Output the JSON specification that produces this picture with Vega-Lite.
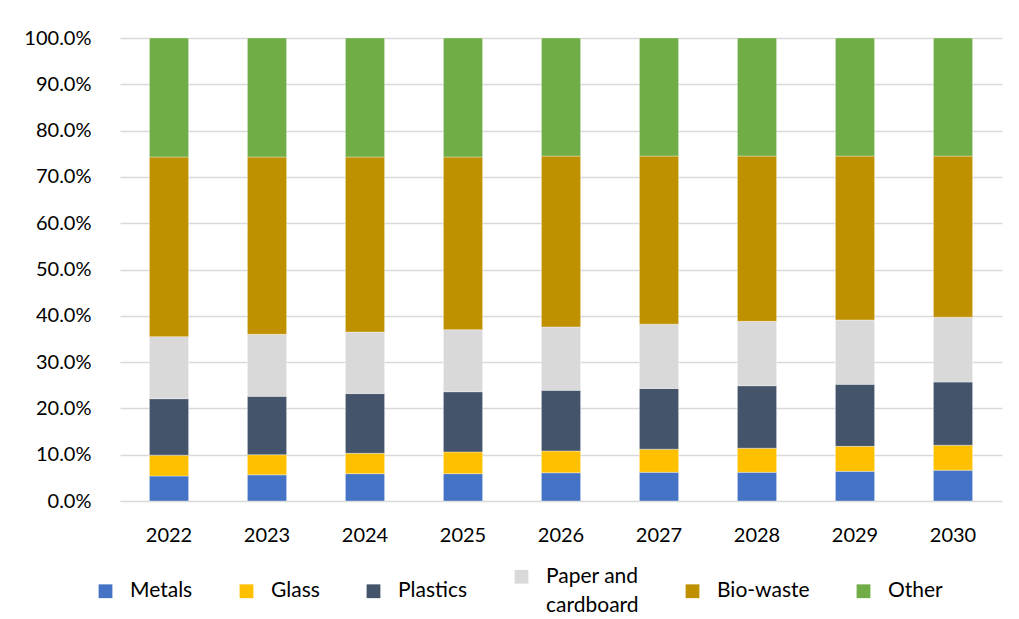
{
  "$schema": "https://vega.github.io/schema/vega-lite/v6.json",
  "autosize": {"type": "none"},
  "width": 882,
  "height": 463,
  "padding": {"left": 120, "top": 38, "right": 17, "bottom": 118},
  "background": "#ffffff",
  "config": {
    "font": "Lato",
    "view": {"stroke": null},
    "axis": {"labelFont": "Lato", "labelFontSize": 20, "labelColor": "#000000"},
    "style": {"guide-label": {"lineHeight": 29}}
  },
  "data": {
    "values": [
      {"year": "2022", "type": "Metals", "share": 0.054},
      {"year": "2022", "type": "Glass", "share": 0.045},
      {"year": "2022", "type": "Plastics", "share": 0.122},
      {"year": "2022", "type": "Paper and cardboard", "share": 0.134},
      {"year": "2022", "type": "Bio-waste", "share": 0.388},
      {"year": "2022", "type": "Other", "share": 0.257},
      {"year": "2023", "type": "Metals", "share": 0.0565},
      {"year": "2023", "type": "Glass", "share": 0.0435},
      {"year": "2023", "type": "Plastics", "share": 0.126},
      {"year": "2023", "type": "Paper and cardboard", "share": 0.134},
      {"year": "2023", "type": "Bio-waste", "share": 0.383},
      {"year": "2023", "type": "Other", "share": 0.257},
      {"year": "2024", "type": "Metals", "share": 0.059},
      {"year": "2024", "type": "Glass", "share": 0.044},
      {"year": "2024", "type": "Plastics", "share": 0.129},
      {"year": "2024", "type": "Paper and cardboard", "share": 0.133},
      {"year": "2024", "type": "Bio-waste", "share": 0.378},
      {"year": "2024", "type": "Other", "share": 0.257},
      {"year": "2025", "type": "Metals", "share": 0.059},
      {"year": "2025", "type": "Glass", "share": 0.047},
      {"year": "2025", "type": "Plastics", "share": 0.130},
      {"year": "2025", "type": "Paper and cardboard", "share": 0.134},
      {"year": "2025", "type": "Bio-waste", "share": 0.373},
      {"year": "2025", "type": "Other", "share": 0.257},
      {"year": "2026", "type": "Metals", "share": 0.061},
      {"year": "2026", "type": "Glass", "share": 0.047},
      {"year": "2026", "type": "Plastics", "share": 0.131},
      {"year": "2026", "type": "Paper and cardboard", "share": 0.137},
      {"year": "2026", "type": "Bio-waste", "share": 0.369},
      {"year": "2026", "type": "Other", "share": 0.255},
      {"year": "2027", "type": "Metals", "share": 0.062},
      {"year": "2027", "type": "Glass", "share": 0.050},
      {"year": "2027", "type": "Plastics", "share": 0.131},
      {"year": "2027", "type": "Paper and cardboard", "share": 0.139},
      {"year": "2027", "type": "Bio-waste", "share": 0.363},
      {"year": "2027", "type": "Other", "share": 0.255},
      {"year": "2028", "type": "Metals", "share": 0.062},
      {"year": "2028", "type": "Glass", "share": 0.052},
      {"year": "2028", "type": "Plastics", "share": 0.135},
      {"year": "2028", "type": "Paper and cardboard", "share": 0.139},
      {"year": "2028", "type": "Bio-waste", "share": 0.357},
      {"year": "2028", "type": "Other", "share": 0.255},
      {"year": "2029", "type": "Metals", "share": 0.064},
      {"year": "2029", "type": "Glass", "share": 0.054},
      {"year": "2029", "type": "Plastics", "share": 0.134},
      {"year": "2029", "type": "Paper and cardboard", "share": 0.139},
      {"year": "2029", "type": "Bio-waste", "share": 0.354},
      {"year": "2029", "type": "Other", "share": 0.255},
      {"year": "2030", "type": "Metals", "share": 0.0665},
      {"year": "2030", "type": "Glass", "share": 0.054},
      {"year": "2030", "type": "Plastics", "share": 0.1365},
      {"year": "2030", "type": "Paper and cardboard", "share": 0.140},
      {"year": "2030", "type": "Bio-waste", "share": 0.348},
      {"year": "2030", "type": "Other", "share": 0.255}
    ]
  },
  "transform": [
    {"window": [{"op": "row_number", "as": "stackIndex"}], "groupby": ["year"]}
  ],
  "mark": {"type": "bar", "stroke": "#ffffff", "strokeWidth": 0.7, "strokeOpacity": 0.5},
  "encoding": {
    "x": {
      "field": "year", "type": "nominal",
      "scale": {"paddingInner": 0.6, "paddingOuter": 0.3},
      "axis": {"title": null, "labelAngle": 0, "domain": false, "ticks": false, "labelPadding": 24, "labelBaseline": "top", "grid": false}
    },
    "y": {
      "field": "share", "type": "quantitative", "stack": "zero",
      "scale": {"domain": [0, 1], "nice": false},
      "axis": {
        "title": null, "format": ".1%", "values": [0, 0.1, 0.2, 0.3, 0.4, 0.5, 0.6, 0.7, 0.8, 0.9, 1],
        "domain": false, "ticks": false, "labelPadding": 29,
        "grid": true, "gridColor": "#D9D9D9", "gridWidth": 1.5
      }
    },
    "color": {
      "field": "type", "type": "nominal",
      "sort": ["Metals", "Glass", "Plastics", "Paper and cardboard", "Bio-waste", "Other"],
      "scale": {
        "domain": ["Metals", "Glass", "Plastics", "Paper and cardboard", "Bio-waste", "Other"],
        "range": ["#4472C4", "#FFC000", "#44546A", "#D9D9D9", "#BF9000", "#70AD47"]
      },
      "legend": {
        "title": null, "orient": "none", "legendX": -25, "legendY": 528, "padding": 0,
        "direction": "horizontal", "columns": 6, "columnPadding": 43,
        "symbolType": "square", "symbolSize": 190, "symbolStrokeWidth": 0, "symbolOpacity": 1,
        "labelFont": "Lato", "labelFontSize": 21, "labelColor": "#000000", "labelOffset": 14,
        "labelLimit": 300, "labelBaseline": "middle",
        "labelExpr": "datum.label == 'Paper and cardboard' ? ['Paper and', 'cardboard'] : datum.label"
      }
    },
    "order": {"field": "stackIndex", "type": "quantitative", "sort": "ascending"}
  }
}
